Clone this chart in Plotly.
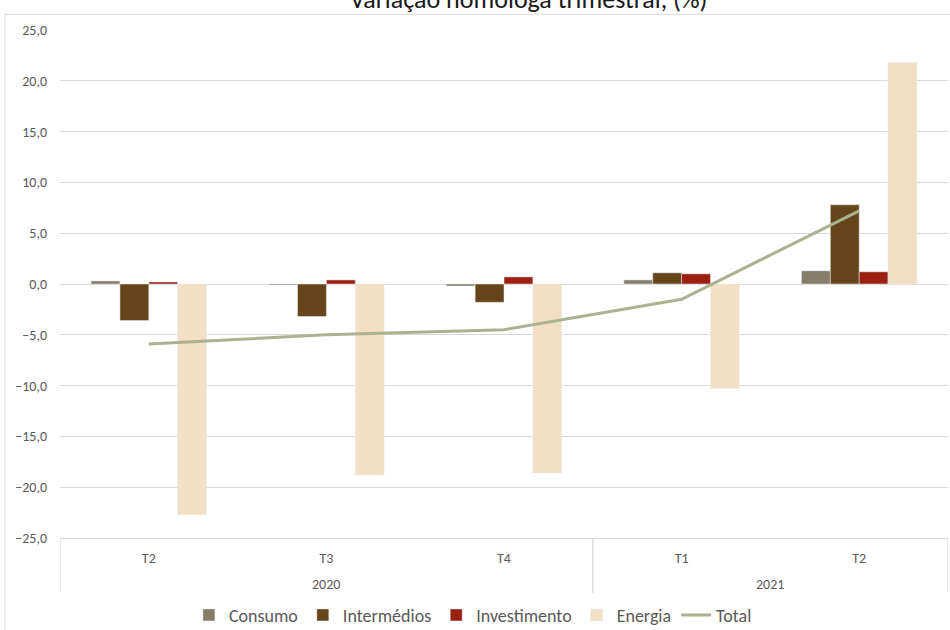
import plotly.graph_objects as go

years = ["2020", "2020", "2020", "2021", "2021"]
quarters = ["T2", "T3", "T4", "T1", "T2"]

consumo = [0.3, -0.1, -0.2, 0.4, 1.3]
intermedios = [-3.6, -3.2, -1.8, 1.1, 7.8]
investimento = [0.2, 0.4, 0.7, 1.0, 1.2]
energia = [-22.7, -18.8, -18.6, -10.3, 21.8]
total = [-5.9, -5.0, -4.5, -1.5, 7.2]

y_ticks = [-25, -20, -15, -10, -5, 0, 5, 10, 15, 20, 25]

cats = [f"{q} {y}" for q, y in zip(quarters, years)]
font_family = "Carlito, Liberation Sans Narrow, Noto Sans, sans-serif"

fig = go.Figure()
fig.add_trace(go.Bar(x=cats, y=consumo, name="Consumo", marker_color="#877d6b"))
fig.add_trace(go.Bar(x=cats, y=intermedios, name="Intermédios", marker_color="#654519"))
fig.add_trace(go.Bar(x=cats, y=investimento, name="Investimento", marker_color="#9b2010"))
fig.add_trace(go.Bar(x=cats, y=energia, name="Energia", marker_color="#f3dfc3"))
fig.add_trace(go.Scatter(x=cats, y=total, name="Total", mode="lines",
                         line=dict(color="#a9b391", width=3)))

# year group labels and dividers, derived from the data
groups = []
for i, yv in enumerate(years):
    if groups and groups[-1][0] == yv:
        groups[-1][2] = i
    else:
        groups.append([yv, i, i])

annotations = [dict(text="Variação homóloga trimestral, (%)", xref="paper", yref="paper",
                    x=0.528, y=1.061, xanchor="center", yanchor="middle", showarrow=False,
                    font=dict(size=26, color="#1a1a1a", family=font_family))]
shapes = [dict(type="rect", xref="paper", yref="paper",
               x0=-0.062, x1=1.2, y0=-0.5, y1=1.031,
               line=dict(color="#d9d9d9", width=1), fillcolor="rgba(0,0,0,0)",
               layer="below")]
for yv, a, b in groups:
    annotations.append(dict(text=yv, xref="x", yref="paper", x=(a + b) / 2, y=-0.0906,
                            xanchor="center", yanchor="middle", showarrow=False,
                            font=dict(size=14, color="#595959")))
    for edge in (a - 0.5, b + 0.5):
        shapes.append(dict(type="line", xref="x", yref="paper", x0=edge, x1=edge,
                           y0=-0.108, y1=0, line=dict(color="#d9d9d9", width=1)))

fig.update_layout(
    width=950, height=630,
    margin=dict(l=60, r=2, t=30, b=92, autoexpand=False),
    paper_bgcolor="white", plot_bgcolor="white",
    separators=",.",
    barmode="group", bargap=0.35, bargroupgap=0,
    font=dict(family=font_family, color="#595959", size=14),
    showlegend=True,
    legend=dict(orientation="h", x=0.465, xanchor="center", y=-0.152, yanchor="middle",
                font=dict(size=18, color="#595959"), traceorder="normal"),
    yaxis=dict(range=[-25, 25], tickvals=y_ticks, tickformat=".1f",
               showgrid=True, gridcolor="#d9d9d9", gridwidth=1,
               zeroline=False, showline=False, ticks="", ticklabelstandoff=12,
               automargin=False, tickfont=dict(size=14, color="#595959")),
    xaxis=dict(type="category", tickvals=cats, ticktext=quarters,
               range=[-0.5, len(cats) - 0.5], automargin=False,
               showgrid=False, showline=True, linecolor="#d9d9d9",
               ticks="", ticklabelstandoff=7, tickfont=dict(size=14, color="#595959")),
    shapes=shapes,
    annotations=annotations,
)

fig.write_html("out.html", config={"displayModeBar": False},
               post_script="document.body.style.margin='0';")
